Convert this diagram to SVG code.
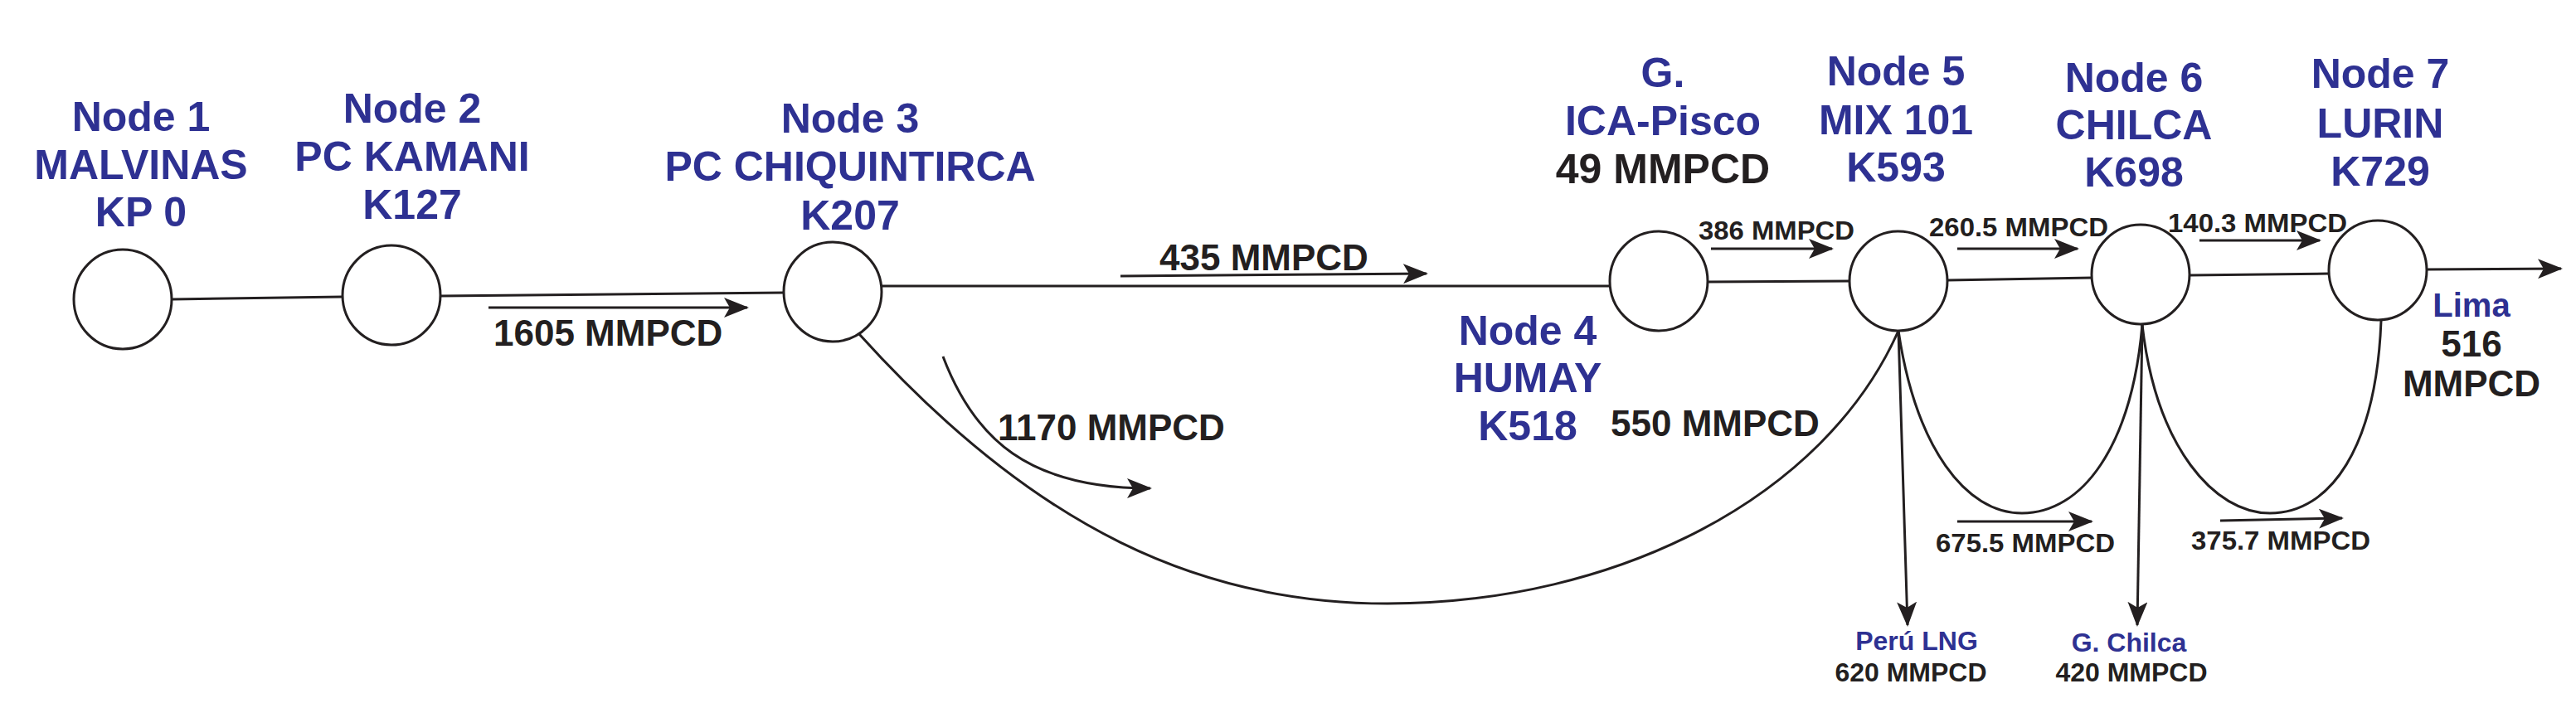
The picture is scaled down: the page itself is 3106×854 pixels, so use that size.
<svg xmlns="http://www.w3.org/2000/svg" width="3106" height="854" viewBox="0 0 3106 854">
<style>
.n{fill:#fff;stroke:#231f20;stroke-width:3}
.c{fill:none;stroke:#231f20;stroke-width:3}
.b{font-family:"Liberation Sans",Arial,sans-serif;font-weight:bold;fill:#2e3192;text-anchor:middle}
.k{font-family:"Liberation Sans",Arial,sans-serif;font-weight:bold;fill:#231f20}
.L{font-size:50px}.M{font-size:44px}.S{font-size:32px}
</style>
<defs>
<marker id="a" markerUnits="userSpaceOnUse" markerWidth="30" markerHeight="24" refX="28" refY="12" orient="auto">
<path d="M0,0 L30,12 L0,24 L7,12 Z" fill="#231f20"/>
</marker>
</defs>
<g id="connectors">
<path class="c" d="M208,361 L413,358"/>
<path class="c" d="M531,357 L946,353"/>
<path class="c" d="M1063,345 L1941,345"/>
<path class="c" d="M2059,340 L2231,339"/>
<path class="c" d="M2348,338 L2523,335"/>
<path class="c" d="M2640,332 L2809,330"/>
<path class="c" d="M2926,325 L3088,324" marker-end="url(#a)"/>
<path class="c" d="M1036,403 C1250,640 1450,728 1673,728 C1950,728 2200,600 2289,399"/>
<path class="c" d="M1137,430 C1175,530 1240,589 1387,589" marker-end="url(#a)"/>
<path class="c" d="M2289,399 C2310,540 2370,619 2438,619 C2510,619 2570,540 2583,392"/>
<path class="c" d="M2583,392 C2600,540 2670,619 2737,619 C2810,619 2865,540 2871,387"/>
<path class="c" d="M2289,399 L2300,754" marker-end="url(#a)"/>
<path class="c" d="M2583,392 L2577,754" marker-end="url(#a)"/>
<path class="c" d="M589,371 L901,371" marker-end="url(#a)"/>
<path class="c" d="M1351,333 L1720,330" marker-end="url(#a)"/>
<path class="c" d="M2063,300 L2209,300" marker-end="url(#a)"/>
<path class="c" d="M2360,300 L2505,300" marker-end="url(#a)"/>
<path class="c" d="M2652,290 L2797,290" marker-end="url(#a)"/>
<path class="c" d="M2360,629 L2522,629" marker-end="url(#a)"/>
<path class="c" d="M2677,628 L2824,625" marker-end="url(#a)"/>
</g>
<g id="node1"><ellipse class="n" cx="148" cy="361" rx="59" ry="60"/>
<text class="b L" x="170" y="158">Node 1</text><text class="b L" x="170" y="216">MALVINAS</text><text class="b L" x="170" y="273">KP 0</text></g>
<g id="node2"><ellipse class="n" cx="472" cy="356" rx="59" ry="60"/>
<text class="b L" x="497" y="148">Node 2</text><text class="b L" x="497" y="206">PC KAMANI</text><text class="b L" x="497" y="264">K127</text></g>
<g id="node3"><ellipse class="n" cx="1004" cy="352" rx="59" ry="60"/>
<text class="b L" x="1025" y="160">Node 3</text><text class="b L" x="1025" y="218">PC CHIQUINTIRCA</text><text class="b L" x="1025" y="277">K207</text></g>
<g id="node4"><ellipse class="n" cx="2000" cy="339" rx="59" ry="60"/>
<text class="b L" x="2005" y="105">G.</text><text class="b L" x="2005" y="163">ICA-Pisco</text><text class="k L" x="2005" y="221" text-anchor="middle">49 MMPCD</text>
<text class="b L" x="1842" y="416">Node 4</text><text class="b L" x="1842" y="473">HUMAY</text><text class="b L" x="1842" y="531">K518</text></g>
<g id="node5"><ellipse class="n" cx="2289" cy="339" rx="59" ry="60"/>
<text class="b L" x="2286" y="103">Node 5</text><text class="b L" x="2286" y="162">MIX 101</text><text class="b L" x="2286" y="219">K593</text></g>
<g id="node6"><ellipse class="n" cx="2581" cy="331" rx="59" ry="60"/>
<text class="b L" x="2573" y="111">Node 6</text><text class="b L" x="2573" y="168">CHILCA</text><text class="b L" x="2573" y="225">K698</text></g>
<g id="node7"><ellipse class="n" cx="2867" cy="326" rx="59" ry="60"/>
<text class="b L" x="2870" y="106">Node 7</text><text class="b L" x="2870" y="166">LURIN</text><text class="b L" x="2870" y="224">K729</text></g>
<g id="labels">
<text class="k M" x="595" y="417">1605 MMPCD</text>
<text class="k M" x="1398" y="326">435 MMPCD</text>
<text class="k M" x="1203" y="531">1170 MMPCD</text>
<text class="k M" x="1942" y="526">550 MMPCD</text>
<text class="k S" x="2048" y="289" textLength="188" lengthAdjust="spacingAndGlyphs">386 MMPCD</text>
<text class="k S" x="2326" y="285" textLength="216" lengthAdjust="spacingAndGlyphs">260.5 MMPCD</text>
<text class="k S" x="2614" y="280" textLength="216" lengthAdjust="spacingAndGlyphs">140.3 MMPCD</text>
<text class="k S" x="2334" y="666" textLength="216" lengthAdjust="spacingAndGlyphs">675.5 MMPCD</text>
<text class="k S" x="2642" y="663" textLength="216" lengthAdjust="spacingAndGlyphs">375.7 MMPCD</text>
<text class="b" style="font-size:40px" x="2980" y="382">Lima</text>
<text class="k M" x="2980" y="430" text-anchor="middle">516</text>
<text class="k M" x="2980" y="478" text-anchor="middle">MMPCD</text>
<text class="b S" x="2311" y="784">Perú LNG</text>
<text class="k S" x="2304" y="822" text-anchor="middle">620 MMPCD</text>
<text class="b S" x="2567" y="786">G. Chilca</text>
<text class="k S" x="2570" y="822" text-anchor="middle">420 MMPCD</text>
</g>
</svg>
